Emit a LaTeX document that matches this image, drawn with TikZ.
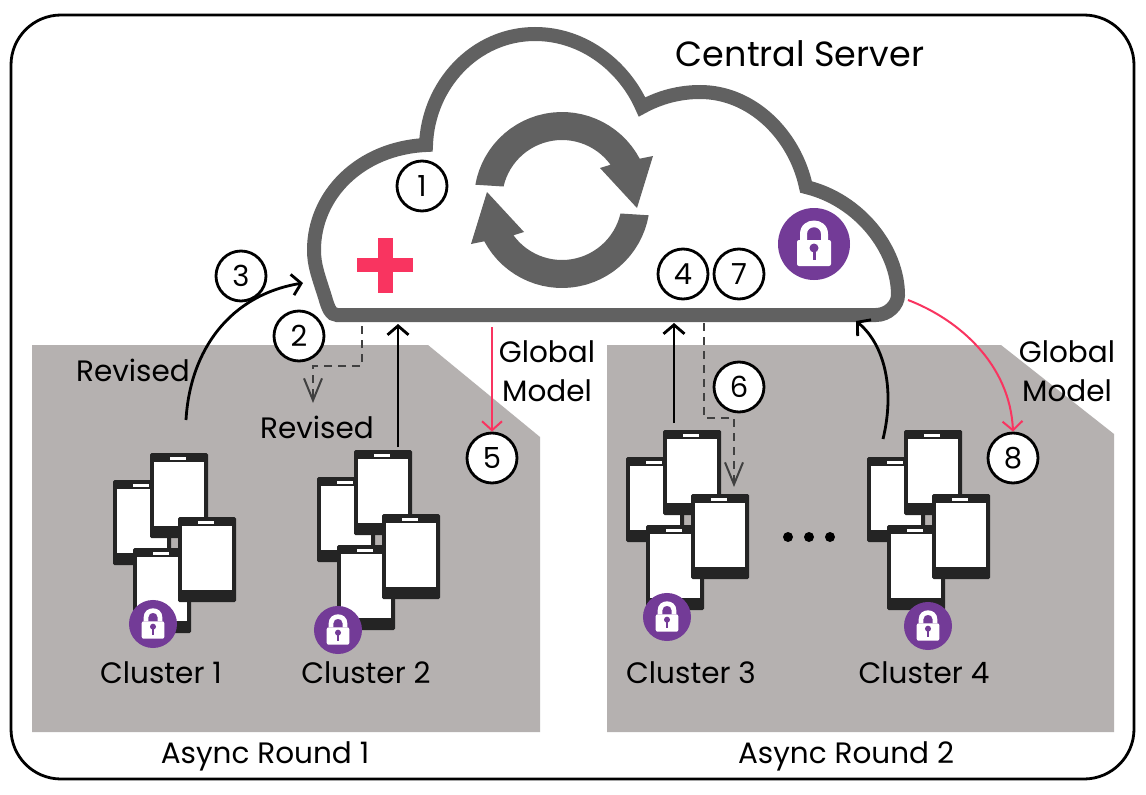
\documentclass[tikz,border=0pt]{standalone}
\usepackage{fontspec}
\setmainfont{Poppins}
\usepackage{xcolor}
\usetikzlibrary{arrows.meta,positioning,calc}
\definecolor{cloudgray}{HTML}{616161}
\definecolor{panelgray}{HTML}{B5B1B0}
\definecolor{lockpurple}{HTML}{733B97}
\definecolor{modelpink}{HTML}{F93460}
\definecolor{phoneblack}{HTML}{242424}
\tikzset{
  numcircle/.style={draw=black, line width=2.8pt, fill=white, circle, minimum size=50pt, inner sep=0pt, font=\fontsize{29}{29}\selectfont},
  labeltext/.style={inner sep=0pt, font=\fontsize{29.5}{29.5}\selectfont},
  solidflow/.style={-{Straight Barb[length=9pt,width=21pt,line width=2.8pt]}, line width=2.8pt, black},
  dashflow/.style={-{Straight Barb[length=22pt,width=18pt,line width=2pt]}, line width=2pt, dash pattern=on 8pt off 6pt, black!75},
  pinkflow/.style={-{Straight Barb[length=9pt,width=20pt,line width=2pt]}, line width=2pt, modelpink},
  phone/.pic={
    \fill[phoneblack, rounded corners=1.5pt] (0,0) rectangle (58,85);
    \fill[white] (4,9) rectangle (54,73);
    \fill[white] (20,4) rectangle (36,6.5);
  },
  phonegroup/.pic={
    \pic at (0,0) {phone};
    \pic at (37,-27) {phone};
    \pic at (20,68) {phone};
    \pic at (65,37) {phone};
  },
  lockbadge/.pic={
    \fill[lockpurple] (0,0) circle (36);
    \fill[white, rounded corners=2pt] (-17,-4) rectangle (17,22);
    \fill[white] (-14,-4) -- (-14,-10) .. controls (-14,-28) and (14,-28) .. (14,-10) -- (14,-4) -- (7,-4) -- (7,-10) .. controls (7,-19) and (-7,-19) .. (-7,-10) -- (-7,-4) -- cycle;
    \fill[lockpurple] (0,4) circle (4.5);
    \fill[lockpurple] (-1.5,4) rectangle (1.5,16);
  },
}

\begin{document}
\begin{tikzpicture}[x=1pt, y=-1pt]
\useasboundingbox (0,0) rectangle (1146,795);
\fill[white] (0,0) rectangle (1146,795);
% Frame
\draw[line width=2.8pt, rounded corners=50pt] (11,15) rectangle (1134,779);

% Rounds
\fill[panelgray] (32,345) -- (428,345) -- (540,437) -- (540,732) -- (32,732) -- cycle;
\fill[panelgray] (607,345) -- (1001,345) -- (1114,434) -- (1114,732) -- (607,732) -- cycle;
\node[labeltext] (round1) at (265,756) {Async Round 1};
\node[labeltext] (round2) at (846,756) {Async Round 2};

% Cloud
\draw[cloudgray, fill=white, line width=14pt, miter limit=10] (337,315)
  .. controls (331,315) and (328,308) .. (325,297)
  .. controls (318,275) and (314,265) .. (314,250)
  .. controls (314,195) and (360,148) .. (426,145)
  .. controls (428,85) and (475,34) .. (535,34)
  .. controls (585,34) and (625,68) .. (642,107)
  .. controls (660,97) and (680,92) .. (700,92)
  .. controls (752,92) and (795,135) .. (806,187)
  .. controls (860,200) and (898,250) .. (898,295)
  .. controls (898,305) and (888,315) .. (876,315) -- cycle;
\node[inner sep=0pt, font=\fontsize{35}{35}\selectfont] (server) at (800,54) {Central Server};

% Sync arrows
\foreach \ang in {0,180} {
  \fill[cloudgray, rotate around={\ang:(562,200)}]
    plot[domain=-170:-28, samples=30] ({562+88*cos(\x)},{200+88*sin(\x)})
    -- (653,156) -- (637,208) -- (600,168)
    -- plot[domain=-36:-167, samples=30] ({562+60*cos(\x)},{200+60*sin(\x)}) -- cycle;
}

% Plus
\fill[modelpink] (378,238) rectangle (393,293);
\fill[modelpink] (357,258) rectangle (413,272);

% Lock of the server
\pic (serverlock) at (814,244) {lockbadge};

% Clusters
\pic (phones1) at (113,480) {phonegroup};
\pic (phones2) at (317,477) {phonegroup};
\pic (phones3) at (626,457) {phonegroup};
\pic (phones4) at (867,457) {phonegroup};
\pic[scale=0.667] (lock1) at (153,624) {lockbadge};
\pic[scale=0.667] (lock2) at (338,630) {lockbadge};
\pic[scale=0.667] (lock3) at (667,617) {lockbadge};
\pic[scale=0.667] (lock4) at (928,626) {lockbadge};
\node[labeltext] (cluster1) at (161,673) {Cluster 1};
\node[labeltext] (cluster2) at (366,673) {Cluster 2};
\node[labeltext] (cluster3) at (691,673) {Cluster 3};
\node[labeltext] (cluster4) at (924,673) {Cluster 4};

% Dots
\foreach \px in {788,809,830} {
  \fill (\px,537) circle (5);
}

% Connector ends
\coordinate (c1up) at (186,420);
\coordinate (srvA) at (303,283);
\coordinate (srvB) at (362,326);
\coordinate (c1down) at (313,403);
\coordinate (c2up) at (398,447);
\coordinate (srvC) at (398,324);
\coordinate (srvD) at (492,327);
\coordinate (srvE) at (674,323);
\coordinate (c3up) at (674,423);
\coordinate (srvF) at (704,323);
\coordinate (c3down) at (734,487);
\coordinate (c4up) at (883,439);
\coordinate (srvG) at (856,321);
\coordinate (srvH) at (908,300);

% Connectors
\draw[solidflow] (c1up) .. controls (190,350) and (230,295) .. (srvA);
\draw[dashflow] (srvB) |- (313,366) -- (c1down);
\draw[solidflow] (c2up) -- (srvC);
\draw[solidflow] (c3up) -- (srvE);
\draw[dashflow] (srvF) |- (734,418) -- (c3down);
\draw[solidflow] (c4up) .. controls (895,390) and (885,345) .. (srvG);

% Numbers
\node[numcircle] (n1) at (422,186) {1};
\node[numcircle] (n2) at (299,336) {2};
\node[numcircle] (n3) at (241,276) {3};
\node[numcircle] (n4) at (683,274) {4};
\node[numcircle] (n5) at (492,458) {5};
\node[numcircle] (n6) at (739,387) {6};
\node[numcircle] (n7) at (739,274) {7};
\node[numcircle] (n8) at (1013,458) {8};
\draw[pinkflow] (srvD) -- (n5.north);
\draw[pinkflow] (srvH) .. controls (960,320) and (1010,365) .. (n8.north);

% Labels
\node[labeltext] (rev1) at (133,370) {Revised};
\node[labeltext] (rev2) at (317,427) {Revised};
\node[labeltext] (glob1) at (547,352) {Global};
\node[labeltext] (mod1) at (547,391) {Model};
\node[labeltext] (glob2) at (1067,352) {Global};
\node[labeltext] (mod2) at (1067,391) {Model};
\end{tikzpicture}
\end{document}
